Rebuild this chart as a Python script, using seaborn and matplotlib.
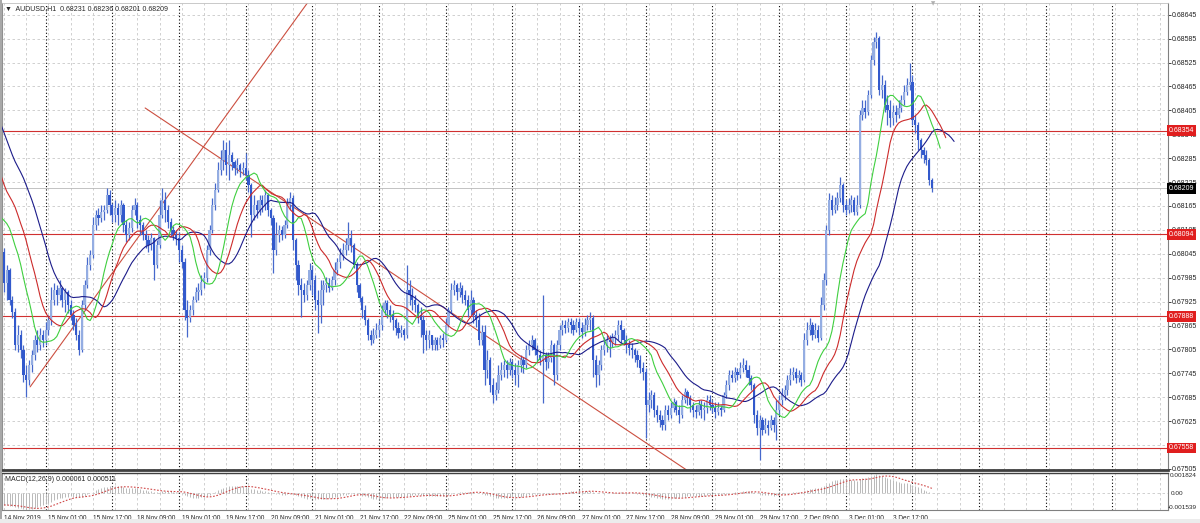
import numpy as np
import pandas as pd
import matplotlib
matplotlib.use("Agg")
import matplotlib.pyplot as plt
import matplotlib.transforms as mtransforms
from matplotlib import font_manager
from matplotlib.patches import Rectangle
import seaborn as sns

# AUDUSD H1 candles, prices in points (1 point = 0.00001), first bar 14 Nov 2019 09:00
first_open = 68049
close_pts = [
    67972, 68004, 67929, 67899, 67816, 67841, 67803, 67741, 67728, 67766,
    67791, 67829, 67816, 67841, 67829, 67854, 67879, 67929, 67954, 67941,
    67959, 67929, 67949, 67916, 67891, 67866, 67841, 67803, 67916, 67966,
    68017, 68042, 68117, 68142, 68135, 68150, 68155, 68192, 68167, 68142,
    68160, 68142, 68167, 68117, 68092, 68110, 68155, 68167, 68130, 68117,
    68092, 68080, 68067, 68084, 68017, 68067, 68142, 68180, 68155, 68125,
    68105, 68092, 68084, 68054, 68024, 67904, 67884, 67904, 67929, 67949,
    67954, 67974, 67984, 68054, 68105, 68167, 68204, 68255, 68280, 68306,
    68267, 68293, 68275, 68260, 68267, 68255, 68260, 68242, 68217, 68142,
    68167, 68155, 68180, 68167, 68192, 68155, 68135, 68054, 68092, 68105,
    68092, 68117, 68167, 68185, 68080, 68017, 67966, 67954, 67941, 67966,
    68004, 67979, 67929, 67916, 67954, 67966, 67972, 67959, 67979, 68004,
    68024, 68042, 68054, 68067, 68084, 68067, 68017, 67966, 67934, 67904,
    67879, 67841, 67829, 67841, 67854, 67866, 67904, 67921, 67904, 67891,
    67879, 67859, 67846, 67854, 67841, 67954, 67941, 67929, 67916, 67891,
    67879, 67841, 67829, 67841, 67816, 67829, 67816, 67833, 67829, 67866,
    67904, 67954, 67966, 67949, 67959, 67941, 67929, 67904, 67929, 67891,
    67879, 67829, 67849, 67753, 67778, 67716, 67691, 67703, 67741, 67753,
    67766, 67753, 67773, 67753, 67741, 67766, 67778, 67766, 67803, 67816,
    67829, 67803, 67791, 67778, 67791, 67773, 67783, 67816, 67741, 67816,
    67854, 67866, 67859, 67874, 67866, 67854, 67874, 67859, 67849, 67866,
    67879, 67884, 67778, 67741, 67766, 67803, 67816, 67829, 67824, 67833,
    67841, 67866, 67854, 67829, 67816, 67809, 67803, 67791, 67778, 67758,
    67748, 67665, 67678, 67691, 67653, 67640, 67628, 67615, 67653, 67640,
    67658, 67673, 67653, 67640, 67678, 67698, 67683, 67665, 67653, 67648,
    67665, 67653, 67658, 67678, 67665, 67658, 67648, 67658, 67653, 67691,
    67716, 67741, 67733, 67748, 67741, 67758, 67766, 67753, 67733, 67716,
    67640, 67608, 67628, 67603, 67615, 67608, 67628, 67615, 67653, 67678,
    67691, 67703, 67728, 67741, 67748, 67733, 67741, 67728, 67829, 67854,
    67866, 67841, 67854, 67833, 67916, 67979, 68105, 68180, 68155, 68167,
    68185, 68217, 68167, 68155, 68167, 68180, 68150, 68167, 68393, 68411,
    68401, 68444, 68531, 68577, 68587, 68456, 68469, 68418, 68406, 68386,
    68401, 68393, 68411, 68431, 68451, 68469, 68476, 68381, 68368, 68331,
    68306, 68293, 68280, 68231, 68209,
]
high_pts = [
    68060, 68017, 68009, 67939, 67909, 67866, 67854, 67816, 67766, 67778,
    67803, 67841, 67854, 67859, 67854, 67874, 67891, 67961, 67972, 67966,
    67979, 67961, 67959, 67954, 67929, 67904, 67884, 67854, 67929, 67979,
    68037, 68054, 68137, 68155, 68160, 68167, 68167, 68210, 68204, 68172,
    68180, 68172, 68180, 68172, 68130, 68125, 68167, 68184, 68175, 68142,
    68125, 68105, 68092, 68097, 68087, 68080, 68180, 68210, 68199, 68167,
    68135, 68115, 68105, 68100, 68067, 68034, 67929, 67916, 67939, 67961,
    67972, 67992, 67999, 68067, 68117, 68185, 68222, 68275, 68306, 68331,
    68326, 68331, 68301, 68280, 68286, 68272, 68275, 68298, 68255, 68222,
    68192, 68180, 68192, 68192, 68204, 68197, 68160, 68142, 68125, 68117,
    68115, 68130, 68184, 68199, 68192, 68084, 68029, 67984, 67972, 67979,
    68022, 68017, 67992, 67954, 67979, 67979, 67987, 67984, 67989, 68024,
    68034, 68060, 68072, 68084, 68125, 68105, 68072, 68024, 67972, 67939,
    67916, 67884, 67854, 67859, 67871, 67879, 67916, 67929, 67929, 67916,
    67904, 67884, 67874, 67866, 67859, 68017, 67979, 67959, 67941, 67921,
    67911, 67891, 67854, 67854, 67841, 67836, 67836, 67841, 67846, 67884,
    67911, 67972, 67979, 67972, 67974, 67966, 67954, 67941, 67954, 67936,
    67904, 67896, 67866, 67866, 67803, 67786, 67733, 67723, 67766, 67773,
    67778, 67778, 67783, 67778, 67771, 67778, 67791, 67786, 67816, 67829,
    67841, 67833, 67816, 67803, 67941, 67798, 67798, 67829, 67821, 67829,
    67866, 67879, 67879, 67884, 67884, 67879, 67884, 67884, 67874, 67884,
    67891, 67899, 67891, 67791, 67778, 67816, 67836, 67841, 67841, 67846,
    67854, 67879, 67879, 67859, 67841, 67829, 67821, 67809, 67803, 67791,
    67773, 67758, 67698, 67703, 67698, 67665, 67653, 67640, 67665, 67665,
    67673, 67683, 67678, 67665, 67691, 67708, 67703, 67691, 67673, 67665,
    67678, 67678, 67673, 67691, 67691, 67678, 67673, 67673, 67665, 67698,
    67728, 67753, 67753, 67761, 67758, 67773, 67783, 67778, 67766, 67741,
    67721, 67653, 67640, 67635, 67633, 67628, 67640, 67635, 67678, 67691,
    67708, 67716, 67741, 67758, 67761, 67758, 67753, 67748, 67846, 67874,
    67884, 67874, 67871, 67866, 67936, 67997, 68117, 68197, 68192, 68187,
    68199, 68237, 68222, 68180, 68184, 68192, 68187, 68192, 68406, 68431,
    68431, 68456, 68544, 68589, 68602, 68592, 68494, 68481, 68444, 68431,
    68418, 68418, 68431, 68444, 68469, 68486, 68524, 68494, 68393, 68376,
    68336, 68313, 68306, 68286, 68236,
]
low_pts = [
    67949, 67929, 67916, 67884, 67803, 67798, 67783, 67723, 67686, 67716,
    67748, 67778, 67798, 67803, 67811, 67816, 67841, 67866, 67916, 67916,
    67929, 67911, 67899, 67896, 67879, 67854, 67829, 67791, 67798, 67904,
    67959, 68004, 68034, 68105, 68117, 68125, 68130, 68147, 68142, 68125,
    68125, 68117, 68125, 68100, 68075, 68080, 68100, 68142, 68110, 68092,
    68080, 68060, 68049, 68054, 67979, 68009, 68060, 68135, 68125, 68110,
    68090, 68080, 68067, 68024, 68009, 67879, 67836, 67874, 67891, 67924,
    67929, 67941, 67959, 67974, 68042, 68097, 68155, 68199, 68242, 68255,
    68242, 68230, 68255, 68242, 68247, 68237, 68242, 68230, 68199, 68087,
    68130, 68135, 68142, 68150, 68155, 68140, 68117, 67997, 68042, 68075,
    68080, 68084, 68110, 68155, 68054, 67979, 67941, 67886, 67924, 67929,
    67954, 67941, 67904, 67846, 67871, 67916, 67949, 67949, 67954, 67966,
    67992, 68009, 68029, 68042, 68054, 68049, 68009, 67949, 67924, 67884,
    67866, 67829, 67816, 67821, 67833, 67836, 67854, 67891, 67884, 67874,
    67854, 67841, 67833, 67836, 67829, 67833, 67916, 67904, 67899, 67871,
    67836, 67796, 67803, 67809, 67803, 67803, 67803, 67809, 67811, 67824,
    67861, 67896, 67941, 67929, 67936, 67921, 67916, 67886, 67891, 67871,
    67861, 67816, 67816, 67716, 67733, 67698, 67670, 67678, 67696, 67728,
    67736, 67733, 67741, 67733, 67716, 67711, 67748, 67746, 67758, 67791,
    67803, 67791, 67773, 67766, 67670, 67753, 67758, 67773, 67716, 67728,
    67803, 67841, 67846, 67849, 67846, 67841, 67849, 67841, 67833, 67839,
    67854, 67854, 67736, 67711, 67716, 67753, 67791, 67798, 67786, 67811,
    67816, 67829, 67821, 67816, 67796, 67791, 67783, 67773, 67761, 67746,
    67728, 67583, 67648, 67658, 67635, 67623, 67610, 67603, 67603, 67628,
    67633, 67648, 67640, 67620, 67633, 67670, 67665, 67648, 67635, 67633,
    67640, 67633, 67628, 67645, 67653, 67645, 67633, 67640, 67638, 67648,
    67683, 67703, 67723, 67723, 67728, 67733, 67748, 67736, 67716, 67703,
    67620, 67590, 67527, 67590, 67595, 67590, 67603, 67598, 67578, 67640,
    67665, 67678, 67691, 67716, 67728, 67721, 67723, 67713, 67723, 67816,
    67841, 67829, 67833, 67824, 67829, 67904, 67966, 68092, 68142, 68147,
    68155, 68175, 68150, 68142, 68147, 68150, 68142, 68142, 68160, 68381,
    68386, 68393, 68436, 68519, 68562, 68444, 68436, 68401, 68368, 68363,
    68368, 68376, 68386, 68401, 68418, 68444, 68456, 68368, 68348, 68306,
    68286, 68272, 68267, 68217, 68201,
]
# bars before the window (off screen), only used to warm up the indicators
lead_pts = [
    68470, 68490, 68510, 68500, 68480, 68470, 68500, 68520, 68530, 68510,
    68490, 68480, 68500, 68520, 68540, 68550, 68530, 68510, 68500, 68490,
    68480, 68470, 68460, 68150, 68120, 68100, 68080, 68110, 68130, 68100,
    68090, 68070, 68080, 68100, 68090, 68060,
]

start_time = "2019-11-14 09:00"
levels = [0.68354, 0.68094, 0.67888, 0.67558]
last_price = 0.68209
rise_line = [(9.4, 0.67711), (78.8, 0.68381)]
fall_line = [(50.8, 0.68411), (167.7, 0.67866)]
price_ticks = [0.67505, 0.67565, 0.67625, 0.67685, 0.67745, 0.67805, 0.67865,
               0.67925, 0.67985, 0.68045, 0.68105, 0.68165, 0.68225, 0.68285,
               0.68345, 0.68405, 0.68465, 0.68525, 0.68585, 0.68645]
macd_top, macd_bottom = 0.001824, -0.001539
title_txt = "\u25bc  AUDUSD,H1  0.68231 0.68236 0.68201 0.68209"
macd_txt = "MACD(12,26,9) 0.000061 0.000511"

close = np.array(close_pts) / 1e5
high = np.array(high_pts) / 1e5
low = np.array(low_pts) / 1e5
open_ = np.concatenate([[first_open / 1e5], close[:-1]])
n = len(close)
x = np.arange(n)

times = pd.date_range(start_time, periods=n * 2, freq="h")
times = times[times.dayofweek < 5][:n]

# alligator (smma of median price, shifted) and macd, warmed up on the lead bars
lead = np.array(lead_pts) / 1e5
med = pd.Series(np.concatenate([lead, (high + low) / 2]))
xs_all = np.arange(len(med)) - len(lead)
alligator = [(13, 8, "#1c1c8a"), (8, 5, "#cc2b2b"), (5, 3, "#3fcf3f")]

cl = pd.Series(np.concatenate([lead, close]))
macd = cl.ewm(span=12, adjust=False).mean() - cl.ewm(span=26, adjust=False).mean()
signal = macd.rolling(9).mean()
vis = xs_all >= 0

sns.set_style("white")
plt.rcParams["font.family"] = ["Liberation Sans", "DejaVu Sans"]
plt.rcParams["font.size"] = 5

# narrow face for the time axis if there is one
names = {f.name for f in font_manager.fontManager.ttflist}
if "Liberation Sans Narrow" in names:
    time_font, time_size = ["Liberation Sans Narrow"], 5.5
elif "DejaVu Sans Condensed" in names:
    time_font, time_size = ["DejaVu Sans Condensed"], 4.9
else:
    time_font, time_size = ["Liberation Sans"], 4.7

W, H = 1200, 523
fig = plt.figure(figsize=(12, 5.23), dpi=100)
ax = fig.add_axes([2 / W, 53 / H, 1166 / W, 467 / H])
ax2 = fig.add_axes([2 / W, 13 / H, 1166 / W, 37 / H], sharex=ax)

xmax = 419.0
ax.set_xlim(-0.72, xmax)
ax.set_ylim(0.675023, 0.686745)
ax2.set_ylim(macd_bottom, macd_top)

# grid + period separators
grid_kw = dict(color="#c9c9c9", lw=0.6, ls=(0, (3, 3)), zorder=0)
for p in price_ticks:
    ax.axhline(p, **grid_kw)
ax2.axhline(0, **grid_kw)
for b in range(0, int(xmax) + 1, 8):
    ax.axvline(b, **grid_kw)
    ax2.axvline(b, **grid_kw)
for b in range(15, int(xmax) + 1, 24):
    ax.axvline(b, color="black", lw=0.8, ls=(0, (1, 2)), zorder=1)
    ax2.axvline(b, color="black", lw=0.8, ls=(0, (1, 2)), zorder=1)

# levels and bid line
for lv in levels:
    ax.axhline(lv, color="#d03030", lw=0.8, zorder=2)
ax.axhline(last_price, color="#b8b8b8", lw=0.6, zorder=2)

# trend lines
for (x1, y1), (x2, y2) in (rise_line, fall_line):
    k = (y2 - y1) / (x2 - x1)
    ax.plot([x1, 300], [y1, y1 + k * (300 - x1)], color="#cc4f40", lw=0.8, zorder=2)

# candles
up = close >= open_
body_lo = np.minimum(open_, close)
body_h = np.maximum(np.abs(close - open_), 0.00002)
ax.vlines(x, low, high, color="#4668cc", lw=0.9, zorder=3)
ax.bar(x, body_h, bottom=body_lo, width=0.8,
       color=np.where(up, "#94ade2", "#3259cc"), linewidth=0, zorder=4)

# alligator lines
for period, shift, col in alligator:
    line = med.ewm(alpha=1 / period, adjust=False).mean().to_numpy()
    lx = xs_all + shift
    keep = lx >= -1
    sns.lineplot(x=lx[keep], y=line[keep], ax=ax, color=col, linewidth=0.8,
                 sort=False, estimator=None, zorder=5)

# macd panel
ax2.vlines(x, 0, macd[vis].to_numpy(), color="#b9b9b9", lw=0.7, zorder=2)
ax2.plot(x, signal[vis].to_numpy(), color="#d04848", lw=0.8, ls=(0, (1.5, 1.5)), zorder=3)

# axes styling
ax.yaxis.tick_right()
ax.set_yticks(price_ticks)
ax.set_yticklabels([f"{p:.5f}" for p in price_ticks])
ax.tick_params(axis="y", length=2, width=0.6, pad=1, colors="#222222", labelsize=5)
ax.tick_params(axis="x", bottom=False, labelbottom=False)
ax.set_xlabel("")
ax.set_ylabel("")
for side, col, lw in (("left", "#909090", 0.8), ("right", "#808080", 0.8),
                      ("top", "#c0c0c0", 0.6), ("bottom", "#404040", 2.0)):
    ax.spines[side].set_color(col)
    ax.spines[side].set_linewidth(lw)

ax2.set_yticks([])
label_bars = list(range(0, n, 16))
label_txt = ["14 Nov 2019" if b == 0 else f"{times[b].day} {times[b]:%b %H:%M}" for b in label_bars]
ax2.set_xticks(label_bars)
ax2.set_xticklabels(label_txt, ha="left", family=time_font, fontsize=time_size)
ax2.tick_params(axis="x", length=2, width=0.6, pad=1.5, colors="#222222")
for side, col, lw in (("left", "#909090", 0.8), ("right", "#808080", 0.8),
                      ("top", "#404040", 1.0), ("bottom", "#808080", 0.8)):
    ax2.spines[side].set_color(col)
    ax2.spines[side].set_linewidth(lw)

# texts
ax.text(0.003, 0.996, title_txt, transform=ax.transAxes, ha="left", va="top", fontsize=5)
ax2.text(0.003, 0.93, macd_txt, transform=ax2.transAxes, ha="left", va="top", fontsize=5)
tr2 = mtransforms.blended_transform_factory(fig.transFigure, ax2.transData)
rx = 1197 / W
ax2.text(rx, macd_top, f"{macd_top:.6f}", transform=tr2, ha="right", va="top",
         fontsize=4.6, clip_on=False)
ax2.text(1171 / W, 0, "0.00", transform=tr2, ha="left", va="center", fontsize=4.6, clip_on=False)
ax2.text(rx, macd_bottom, f"{macd_bottom:.6f}", transform=tr2, ha="right", va="bottom",
         fontsize=4.6, clip_on=False)

tr = mtransforms.blended_transform_factory(ax.transAxes, ax.transData)
for lv in levels:
    ax.text(1.0008, lv, f"{lv:.5f}", transform=tr, color="white", fontsize=5,
            ha="left", va="center", clip_on=False, zorder=10,
            bbox=dict(boxstyle="square,pad=0.25", fc="#e01e1e", ec="none"))
ax.text(1.0008, last_price, f"{last_price:.5f}", transform=tr, color="white", fontsize=5,
        ha="left", va="center", clip_on=False, zorder=10,
        bbox=dict(boxstyle="square,pad=0.25", fc="black", ec="none"))

# window frame bits
fig.patches.append(Rectangle((0, 0), 2 / W, 1, transform=fig.transFigure, fc="#a8a8a8", ec="none"))
fig.patches.append(Rectangle((0, 0), 1, 4 / H, transform=fig.transFigure, fc="#ececec", ec="none"))
fig.text(933 / W, 1 - 1 / H, "\u25bc", color="#b0b0b0", fontsize=4, ha="center", va="top",
         family=["DejaVu Sans"])

fig.savefig("out.png", dpi=100, facecolor="white")
